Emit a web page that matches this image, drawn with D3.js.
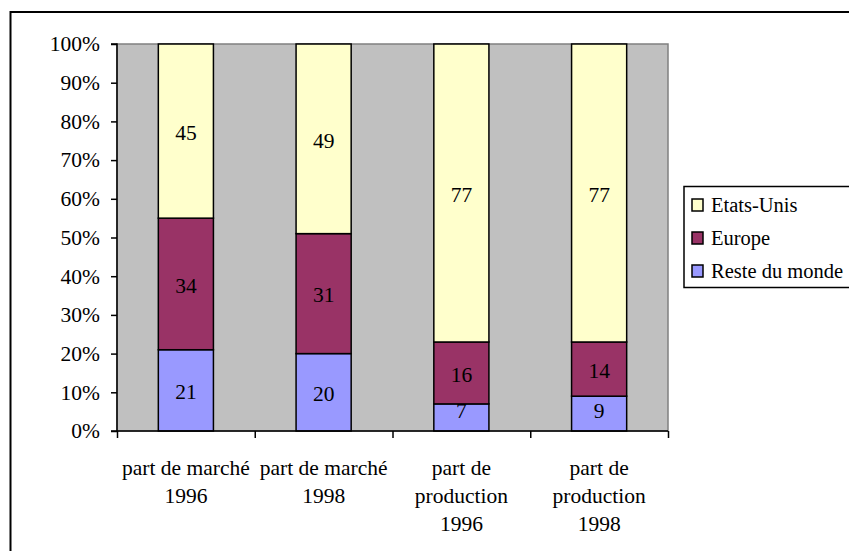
<!DOCTYPE html>
<html><head><meta charset="utf-8">
<script src="https://cdn.jsdelivr.net/npm/d3@7"></script>
<style>html,body{margin:0;padding:0;background:#fff;}svg{display:block;}</style>
</head><body>
<svg id="c" width="849" height="551"></svg>
<script>
const categories = [["part de marché","1996"],["part de marché","1998"],["part de","production","1996"],["part de","production","1998"]];
const seriesNames = ["Reste du monde","Europe","Etats-Unis"];
const resteDuMonde = [21,20,7,9];
const europe = [34,31,16,14];
const etatsUnis = [45,49,77,77];
const yTicks = [0,10,20,30,40,50,60,70,80,90,100];
const colors = {"Etats-Unis":"#FFFFCC","Europe":"#993366","Reste du monde":"#9999FF"};

const svg = d3.select("#c");
const font = "'Liberation Serif','Times New Roman',serif";
const fs = 21.5;
const L=117, R=668, T=44, B=431;

// outer frame
svg.append("rect").attr("x",10.5).attr("y",12).attr("width",900).attr("height",600)
  .attr("fill","#fff").attr("stroke","#000").attr("stroke-width",2);

const x = d3.scaleBand().domain(d3.range(categories.length)).range([L,R]).paddingInner(0.6).paddingOuter(0.3);
const xb = d3.scaleLinear().domain([0,categories.length]).range([L,R]);
const y = d3.scaleLinear().domain([0,100]).range([B,T]);

svg.append("rect").attr("x",L).attr("y",T).attr("width",R-L).attr("height",B-T)
  .attr("fill","#C0C0C0").attr("stroke","#808080").attr("stroke-width",1.5);

const data = categories.map((c,i)=>({i, "Reste du monde":resteDuMonde[i], "Europe":europe[i], "Etats-Unis":etatsUnis[i]}));
const stack = d3.stack().keys(seriesNames)(data);

const g = svg.append("g");
stack.forEach(s=>{
  s.forEach((d,i)=>{
    g.append("rect").attr("x",x(i)).attr("width",x.bandwidth())
      .attr("y",y(d[1])).attr("height",y(d[0])-y(d[1]))
      .attr("fill",colors[s.key]).attr("stroke","#000").attr("stroke-width",1.5);
  });
});
stack.forEach(s=>{
  s.forEach((d,i)=>{
    let cy = (y(d[0])+y(d[1]))/2 + 1;
    cy = Math.min(cy, y(d[0])-21);
    g.append("text").attr("x",x(i)+x.bandwidth()/2).attr("y",cy).attr("dy","0.36em")
      .attr("text-anchor","middle").attr("font-family",font).attr("font-size",fs)
      .attr("fill","#000").text(d.data[s.key]);
  });
});

// y axis
const ya = svg.append("g").attr("transform",`translate(${L},0)`)
  .call(d3.axisLeft(y).tickValues(yTicks).tickSize(6).tickPadding(11).tickFormat(d=>d+"%"));
ya.select(".domain").attr("stroke","#000").attr("stroke-width",1.5).attr("d",`M-6,${y(100)}H0V${y(0)}H-6`);
ya.selectAll(".tick line").attr("stroke","#000").attr("stroke-width",1.5);
ya.selectAll("text").attr("font-family",font).attr("font-size",fs).attr("fill","#000");

// x axis
const xa = svg.append("g").attr("transform",`translate(0,${B})`)
  .call(d3.axisBottom(xb).tickValues(d3.range(categories.length+1)).tickSize(7).tickFormat(""));
xa.select(".domain").attr("stroke","#000").attr("stroke-width",1.5).attr("d",`M${L},0H${R}`);
xa.selectAll(".tick line").attr("stroke","#000").attr("stroke-width",1.5);

categories.forEach((lines,i)=>{
  const t = svg.append("text").attr("text-anchor","middle").attr("font-family",font).attr("font-size",fs).attr("fill","#000");
  lines.forEach((ln,j)=>{
    t.append("tspan").attr("x",x(i)+x.bandwidth()/2).attr("y",475+j*28).text(ln);
  });
});

// legend
const lg = svg.append("g");
lg.append("rect").attr("x",684).attr("y",186.5).attr("width",300).attr("height",101)
  .attr("fill","#fff").attr("stroke","#000").attr("stroke-width",1.5);
const legendKeys = ["Etats-Unis","Europe","Reste du monde"];
legendKeys.forEach((k,j)=>{
  const cy = 205 + j*33;
  lg.append("rect").attr("x",692).attr("y",cy-6).attr("width",11).attr("height",12)
    .attr("fill",colors[k]).attr("stroke","#000").attr("stroke-width",1.5);
  lg.append("text").attr("x",711).attr("y",cy).attr("dy","0.36em")
    .attr("font-family",font).attr("font-size",20.5).attr("fill","#000").text(k);
});
</script>
</body></html>
